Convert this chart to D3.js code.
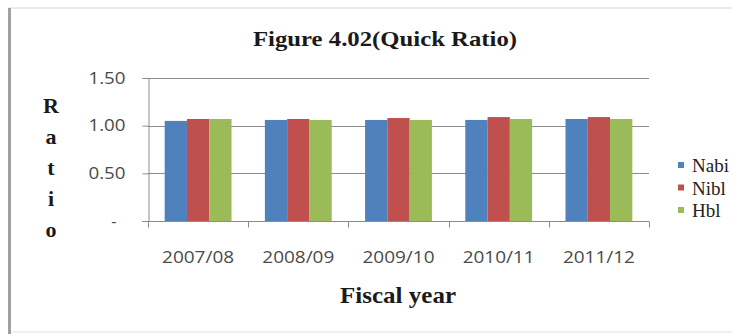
<!DOCTYPE html>
<html>
<head>
<meta charset="utf-8">
<script src="https://cdn.jsdelivr.net/npm/d3@7"></script>
<style>
  html, body { margin: 0; padding: 0; background: #fff; }
  svg { display: block; }
</style>
</head>
<body>
<svg id="chart" width="732" height="335"></svg>
<script>
// Quick ratio by fiscal year for three banks
const categories = ["2007/08", "2008/09", "2009/10", "2010/11", "2011/12"];
const seriesNames = ["Nabi", "Nibl", "Hbl"];
const nabi = [1.05, 1.06, 1.06, 1.06, 1.07];
const nibl = [1.07, 1.07, 1.08, 1.09, 1.09];
const hbl  = [1.07, 1.06, 1.06, 1.07, 1.07];
const yTicks = [0, 0.5, 1.0, 1.5];
const yTickLabels = ["-", "0.50", "1.00", "1.50"];
const colors = ["#4F81BD", "#C0504D", "#9BBB59"];

const seriesValues = [nabi, nibl, hbl];
const rows = categories.map((c, i) => ({
  cat: c,
  vals: seriesNames.map((s, k) => ({ name: s, value: seriesValues[k][i], k }))
}));

const svg = d3.select("#chart");

// outer frame
svg.append("line").attr("x1", 9).attr("x2", 732).attr("y1", 8).attr("y2", 8)
  .attr("stroke", "#d4d4d4").attr("stroke-width", 1.2);
svg.append("line").attr("x1", 9).attr("x2", 732).attr("y1", 332).attr("y2", 332)
  .attr("stroke", "#ececec").attr("stroke-width", 1.5);
svg.append("line").attr("x1", 9.5).attr("x2", 9.5).attr("y1", 8).attr("y2", 334)
  .attr("stroke", "#a0a0a0").attr("stroke-width", 3);

const plot = { left: 148, right: 649, top: 78, bottom: 221 };

const x = d3.scaleBand().domain(categories).range([plot.left, plot.right])
  .paddingInner(0.333).paddingOuter(0.1665);
const xs = d3.scaleBand().domain(seriesNames).range([0, x.bandwidth()]);
const y = d3.scaleLinear().domain([0, 1.5]).range([plot.bottom, plot.top]);

// gridlines
svg.append("g").selectAll("line").data(yTicks.filter(t => t > 0)).join("line")
  .attr("x1", plot.left).attr("x2", plot.right)
  .attr("y1", d => Math.round(y(d)) + 0.5).attr("y2", d => Math.round(y(d)) + 0.5)
  .attr("stroke", "#8c8c8c").attr("stroke-width", 1);

// bars
svg.append("g").selectAll("g").data(rows).join("g")
  .attr("transform", d => `translate(${x(d.cat)},0)`)
  .selectAll("rect").data(d => d.vals).join("rect")
  .attr("x", d => xs(d.name))
  .attr("width", xs.bandwidth())
  .attr("y", d => y(d.value))
  .attr("height", d => y(0) - y(d.value))
  .attr("fill", d => colors[d.k]);

// y axis
const yAxis = d3.axisLeft(y).tickValues(yTicks)
  .tickFormat((d, i) => yTickLabels[i]).tickSize(6).tickPadding(17);
const gy = svg.append("g").attr("transform", `translate(${plot.left + 0.5},0)`).call(yAxis);
gy.select(".domain").attr("stroke", "#8c8c8c");
gy.selectAll(".tick line").attr("stroke", "#8c8c8c");
gy.selectAll(".tick text")
  .attr("font-family", "'Open Sans', sans-serif").attr("font-size", 16)
  .attr("fill", "#4a4a4a")
  .each(function (d) {
    const t = d3.select(this);
    if (d === 0) t.attr("x", -32);
    else t.attr("textLength", 37).attr("lengthAdjust", "spacingAndGlyphs");
  });

// x axis: ticks at category boundaries
const xAxisG = svg.append("g").attr("transform", `translate(0,${Math.round(plot.bottom) + 0.5})`);
xAxisG.append("line").attr("x1", plot.left).attr("x2", plot.right)
  .attr("stroke", "#8c8c8c");
const step = x.step();
const boundaries = d3.range(categories.length + 1).map(i => plot.left + i * step);
xAxisG.selectAll("line.tk").data(boundaries).join("line").attr("class", "tk")
  .attr("x1", d => Math.round(d) + 0.5).attr("x2", d => Math.round(d) + 0.5)
  .attr("y1", 0).attr("y2", 6).attr("stroke", "#8c8c8c");
xAxisG.selectAll("text").data(categories).join("text")
  .attr("x", d => x(d) + x.bandwidth() / 2)
  .attr("y", 41)
  .attr("text-anchor", "middle")
  .attr("font-family", "'Open Sans', sans-serif").attr("font-size", 16)
  .attr("textLength", 72).attr("lengthAdjust", "spacingAndGlyphs")
  .attr("fill", "#4a4a4a")
  .text(d => d);

// title
svg.append("text").attr("x", 385).attr("y", 46).attr("text-anchor", "middle")
  .attr("font-family", "'Liberation Serif', serif").attr("font-weight", "bold")
  .attr("font-size", 22).attr("fill", "#1a1a1a")
  .attr("textLength", 264).attr("lengthAdjust", "spacingAndGlyphs")
  .text("Figure 4.02(Quick Ratio)");

// x axis title
svg.append("text").attr("x", 398).attr("y", 303).attr("text-anchor", "middle")
  .attr("font-family", "'Liberation Serif', serif").attr("font-weight", "bold")
  .attr("font-size", 23).attr("fill", "#1a1a1a")
  .attr("textLength", 116).attr("lengthAdjust", "spacingAndGlyphs")
  .text("Fiscal year");

// y axis title, stacked letters
const yTitle = "Ratio".split("");
svg.append("g").selectAll("text").data(yTitle).join("text")
  .attr("x", 51).attr("y", (d, i) => 113 + i * 31)
  .attr("text-anchor", "middle")
  .attr("font-family", "'Liberation Serif', serif").attr("font-weight", "bold")
  .attr("font-size", 22).attr("fill", "#1a1a1a")
  .text(d => d);

// legend
const lg = svg.append("g").selectAll("g").data(seriesNames).join("g")
  .attr("transform", (d, i) => `translate(678,${165 + i * 22.5})`);
lg.append("rect").attr("x", 0).attr("y", -3).attr("width", 6).attr("height", 6)
  .attr("fill", (d, i) => colors[i]);
lg.append("text").attr("x", 14).attr("y", 7)
  .attr("font-family", "'Liberation Serif', serif").attr("font-size", 19)
  .attr("fill", "#222")
  .text(d => d);
</script>
</body>
</html>
